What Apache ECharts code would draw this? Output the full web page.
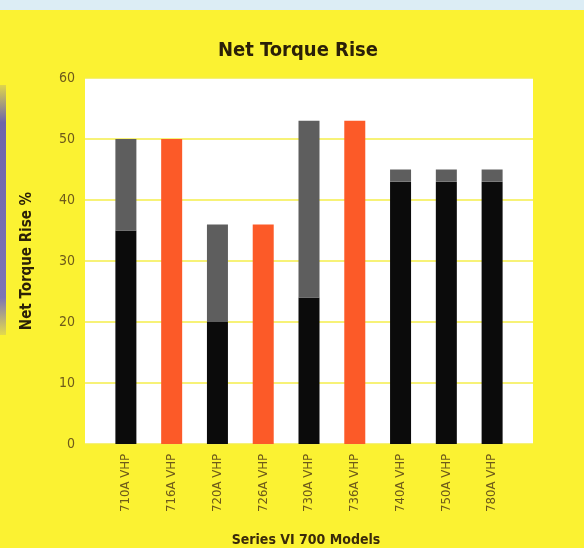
<!DOCTYPE html>
<html><head><meta charset="utf-8">
<script src="https://cdn.jsdelivr.net/npm/echarts@6/dist/echarts.min.js"></script>
<style>html,body{margin:0;padding:0;background:#fbf232}#c{width:584px;height:548px}</style>
</head><body><div id="c"></div>
<script>
const categories = ['710A VHP','716A VHP','720A VHP','726A VHP','730A VHP','736A VHP','740A VHP','750A VHP','780A VHP'];
const baseBlack = [35, null, 20, null, 24, null, 43, 43, 43];
const topGray   = [15, null, 16, null, 29, null, 2, 2, 2];
const orangeVals= [null, 50, null, 36, null, 53, null, null, null];
const yTicks = {min: 0, max: 60, interval: 10};

const FONT = '"Liberation Sans Narrow","DejaVu Sans Condensed","Liberation Sans",sans-serif';
const LABEL = '#6e5a1a';
const chart = echarts.init(document.getElementById('c'), null, {renderer: 'canvas'});
chart.setOption({
  backgroundColor: '#fbf232',
  animation: false,
  graphic: [
    {type: 'rect', shape: {x: 0, y: 0, width: 584, height: 10}, style: {fill: '#dcedf5'}, z: -1},
    {type: 'rect', shape: {x: 0, y: 85, width: 6, height: 250},
     style: {fill: new echarts.graphic.LinearGradient(0,0,0,1,[{offset:0,color:'rgba(110,100,175,0.2)'},{offset:0.15,color:'#6f64aa'},{offset:0.85,color:'#7d74b4'},{offset:1,color:'rgba(130,120,180,0.2)'}])}, z: -1}
  ],
  title: [
    {text: 'Net Torque Rise', left: 293, top: 36, textAlign: 'center',
     textStyle: {fontFamily: FONT, fontSize: 20, fontWeight: 'bold', color: '#2b2008'}},
    {text: 'Series VI 700 Models', left: 301, top: 528, textAlign: 'center',
     textStyle: {fontFamily: FONT, fontSize: 14, fontWeight: 'bold', color: '#3a2a0a'}}
  ],
  grid: [
    {left: 85, right: 51, top: 78, bottom: 104, show: true, backgroundColor: '#ffffff', borderWidth: 0},
    {left: 103, right: 69, top: 78, bottom: 104}
  ],
  xAxis: [
    {gridIndex: 0, type: 'value', show: false, min: 0, max: 1},
    {gridIndex: 1, type: 'category', data: categories,
     axisLine: {show: false}, axisTick: {show: false},
     axisLabel: {rotate: 90, margin: 10, fontFamily: FONT, fontSize: 13, color: LABEL}}
  ],
  yAxis: [
    {gridIndex: 0, type: 'value', min: yTicks.min, max: yTicks.max, interval: yTicks.interval,
     name: 'Net Torque Rise %', nameLocation: 'middle', nameGap: 50,
     nameTextStyle: {fontFamily: FONT, fontSize: 15, fontWeight: 'bold', color: '#2b2008'},
     axisLine: {show: false}, axisTick: {show: false},
     axisLabel: {margin: 10, fontFamily: FONT, fontSize: 14, color: LABEL},
     splitLine: {show: true, lineStyle: {color: '#f4ee4a', width: 1.5}}},
    {gridIndex: 1, type: 'value', min: yTicks.min, max: yTicks.max, interval: yTicks.interval, show: false,
     splitLine: {show: false}}
  ],
  series: [
    {type: 'bar', xAxisIndex: 1, yAxisIndex: 1, stack: 's', data: baseBlack, barWidth: 21, itemStyle: {color: '#0b0b0b'}},
    {type: 'bar', xAxisIndex: 1, yAxisIndex: 1, stack: 's', data: topGray, barWidth: 21, itemStyle: {color: '#5e5e5e'}},
    {type: 'bar', xAxisIndex: 1, yAxisIndex: 1, stack: 's', data: orangeVals, barWidth: 21, itemStyle: {color: '#fc5a28'}}
  ]
});
</script></body></html>
